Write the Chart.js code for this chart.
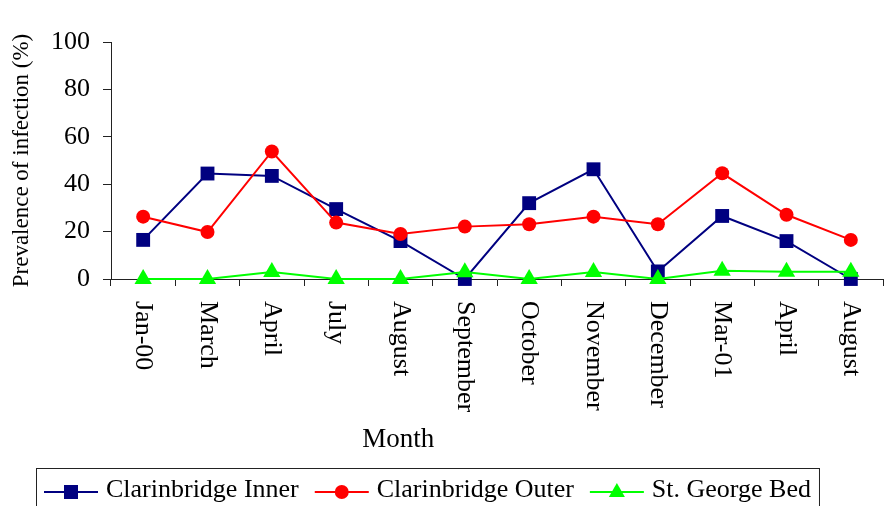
<!DOCTYPE html>
<html>
<head>
<meta charset="utf-8">
<script src="https://cdn.jsdelivr.net/npm/chart.js@4"></script>
<style>
  body { margin: 0; overflow: hidden; background: #fff; }
  #wrap { width: 893px; height: 506px; position: relative; }
</style>
</head>
<body>
<div id="wrap"><canvas id="chart"></canvas></div>
<script>
// Month labels along the x axis
const months = ['Jan-00', 'March', 'April', 'July', 'August', 'September',
    'October', 'November', 'December', 'Mar-01', 'April', 'August'];

// Prevalence of infection (%) per site
const clarinInner = [16.5, 44.5, 43.5, 29.5, 16, 0, 32, 46.3, 3.2, 26.6, 16, 0];
const clarinOuter = [26.3, 19.8, 53.8, 23.8, 19, 22.1, 23.1, 26.3, 23.1, 44.6, 27.1, 16.5];
const stGeorge = [0, 0, 3, 0, 0, 2.9, 0, 3, 0, 3.5, 3.1, 3.1];

const yTicks = [0, 20, 40, 60, 80, 100];
const xTitle = 'Month';

const serif = '"Liberation Serif", "Times New Roman", serif';
const axisColor = '#222';

// draws a marker shape, used for the legend symbols
function drawMarker(g, shape, x, y) {
    g.beginPath();
    if (shape === 'rect') {
        g.rect(x - 7, y - 7, 14, 14);
    } else if (shape === 'circle') {
        g.arc(x, y, 7, 0, Math.PI * 2);
    } else {
        g.moveTo(x, y - 9);
        g.lineTo(x + 8, y + 5);
        g.lineTo(x - 8, y + 5);
        g.closePath();
    }
    g.fill();
}

// x labels read top-to-bottom, so draw them ourselves (plus the axis title)
const xLabelsPlugin = {
    id: 'xLabels',
    afterDraw(chart) {
        const sx = chart.scales.x;
        const ctx = chart.ctx;
        ctx.save();
        ctx.font = '26px ' + serif;
        ctx.fillStyle = '#000';
        ctx.textAlign = 'left';
        ctx.textBaseline = 'middle';
        months.forEach((m, i) => {
            ctx.save();
            ctx.translate(sx.getPixelForValue(i), sx.top + 22);
            ctx.rotate(Math.PI / 2);
            ctx.fillText(m, 0, 0);
            ctx.restore();
        });
        // axis title sits left of centre in the original
        ctx.font = '27px ' + serif;
        ctx.textAlign = 'center';
        ctx.textBaseline = 'alphabetic';
        ctx.fillText(xTitle, sx.left + (sx.right - sx.left) * 0.372, sx.top + 168);
        ctx.restore();
    }
};

// boxed legend with line + marker symbols
const boxLegendPlugin = {
    id: 'boxLegend',
    afterDraw(chart) {
        const ctx = chart.ctx;
        const frameLeft = 36;
        const frameTop = 468;
        const lineY = 492;
        const textY = 497;
        let x = frameLeft + 8;
        ctx.save();
        ctx.font = '26px ' + serif;
        ctx.textBaseline = 'alphabetic';
        ctx.textAlign = 'left';
        chart.data.datasets.forEach(ds => {
            ctx.strokeStyle = ds.borderColor;
            ctx.fillStyle = ds.borderColor;
            ctx.lineWidth = 2;
            ctx.beginPath();
            ctx.moveTo(x, lineY);
            ctx.lineTo(x + 54, lineY);
            ctx.stroke();
            drawMarker(ctx, ds.pointStyle, x + 27, lineY);
            x += 54 + 8;
            ctx.fillStyle = '#000';
            ctx.fillText(ds.label, x, textY);
            x += ctx.measureText(ds.label).width + 16;
        });
        const frameRight = x - 16 + 8;
        ctx.strokeStyle = axisColor;
        ctx.lineWidth = 1;
        ctx.strokeRect(frameLeft + 0.5, frameTop + 0.5, frameRight - frameLeft, 60);
        ctx.restore();
    }
};

const ctx = document.getElementById('chart').getContext('2d');
new Chart(ctx, {
    type: 'line',
    data: {
        labels: months,
        datasets: [{
            label: 'Clarinbridge Inner',
            data: clarinInner,
            borderColor: '#000080',
            backgroundColor: '#000080',
            borderWidth: 2,
            pointStyle: 'rect',
            pointRadius: 9.8,
            pointBorderWidth: 0,
            clip: false,
            order: 3
        }, {
            label: 'Clarinbridge Outer',
            data: clarinOuter,
            borderColor: '#ff0000',
            backgroundColor: '#ff0000',
            borderWidth: 2,
            pointStyle: 'circle',
            pointRadius: 7,
            pointBorderWidth: 0,
            clip: false,
            order: 2
        }, {
            label: 'St. George Bed',
            data: stGeorge,
            borderColor: '#00ff00',
            backgroundColor: '#00ff00',
            borderWidth: 2,
            pointStyle: 'triangle',
            pointRadius: 10,
            pointBorderWidth: 0,
            clip: false,
            order: 1
        }]
    },
    options: {
        responsive: true,
        maintainAspectRatio: false,
        animation: false,
        layout: { padding: { top: 42, right: 0, left: 0, bottom: 40 } },
        scales: {
            x: {
                offset: true,
                afterFit: s => { s.height = 187; },
                grid: { offset: true, drawOnChartArea: false, color: axisColor, tickLength: 7 },
                border: { color: axisColor, width: 1 },
                ticks: { display: false },
                title: { display: false }
            },
            y: {
                min: 0,
                max: 100,
                afterBuildTicks: s => { s.ticks = yTicks.map(v => ({ value: v })); },
                afterFit: s => { s.width = 111; },
                grid: { drawOnChartArea: false, color: axisColor, tickLength: 8 },
                border: { color: axisColor, width: 1 },
                ticks: {
                    color: '#000',
                    font: { family: serif, size: 26 },
                    padding: 13
                },
                title: {
                    display: true,
                    text: 'Prevalence of infection (%)',
                    color: '#000',
                    font: { family: serif, size: 23 },
                    padding: { top: 8, bottom: 0 }
                }
            }
        },
        plugins: {
            tooltip: { enabled: false },
            legend: { display: false }
        }
    },
    plugins: [xLabelsPlugin, boxLegendPlugin]
});
</script>
</body>
</html>
